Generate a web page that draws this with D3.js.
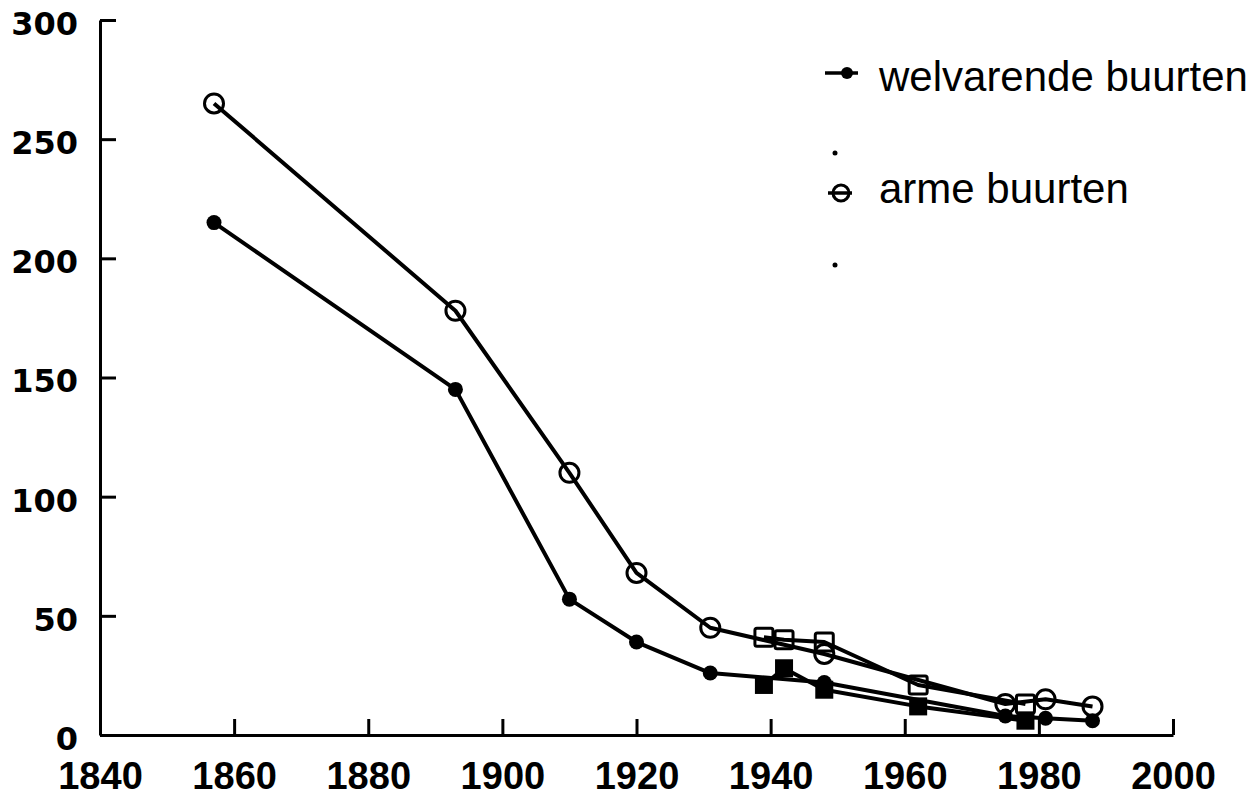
<!DOCTYPE html>
<html>
<head>
<meta charset="utf-8">
<script src="https://cdn.jsdelivr.net/npm/d3@7"></script>
<style>
  body { margin: 0; background: #fff; }
  .axis path, .axis line { stroke: #000; stroke-width: 3; }
  .xaxis text { font: bold 38px "Liberation Sans", Arial, sans-serif; fill: #000; }
  .yaxis text { font: bold 32px "DejaVu Sans", sans-serif; fill: #000; }
</style>
</head>
<body>
<svg id="chart" width="1259" height="800"></svg>
<script>
// circles, both neighbourhood types
var circleYears = [1857, 1893, 1910, 1920, 1931, 1948, 1975, 1981, 1988];
var wealthyValues = [215, 145, 57, 39, 26, 22, 8, 7, 6];
var poorValues = [265, 178, 110, 68, 45, 34, 13, 15, 12];

// squares (second source)
var squareYears = [1939, 1942, 1948, 1962, 1978];
var wealthySquareValues = [21, 28, 19, 12, 6];
var poorSquareValues = [41, 40, 39, 21, 13];

var xTicks = [1840, 1860, 1880, 1900, 1920, 1940, 1960, 1980, 2000];
var yTicks = [0, 50, 100, 150, 200, 250, 300];
var legendLabels = ['welvarende buurten', 'arme buurten'];

var svg = d3.select('#chart');

var x = d3.scaleLinear().domain([1840, 2000]).range([100, 1173]);
var y = d3.scaleLinear().domain([0, 300]).range([735, 20]);

// axes, ticks pointing inward
svg.append('g')
    .attr('class', 'axis xaxis')
    .attr('transform', 'translate(0,' + y(0) + ')')
    .call(d3.axisBottom(x).tickValues(xTicks).tickFormat(d3.format('d'))
        .tickSize(-16).tickSizeOuter(0).tickPadding(27));

svg.append('g')
    .attr('class', 'axis yaxis')
    .attr('transform', 'translate(' + x(1840) + ',0)')
    .call(d3.axisLeft(y).tickValues(yTicks)
        .tickSize(-16).tickSizeOuter(0).tickPadding(22))
    .selectAll('text')
    .attr('dy', '0.45em');

function pairs(years, values) {
    return years.map(function(d, i) { return [d, values[i]]; });
}

var line = d3.line()
    .x(function(d) { return x(d[0]); })
    .y(function(d) { return y(d[1]); });

var series = [
    pairs(circleYears, wealthyValues),
    pairs(circleYears, poorValues),
    pairs(squareYears, wealthySquareValues),
    pairs(squareYears, poorSquareValues)
];

series.forEach(function(s) {
    svg.append('path')
        .datum(s)
        .attr('d', line)
        .style('fill', 'none')
        .style('stroke', '#000')
        .style('stroke-width', 4)
        .style('stroke-linejoin', 'round');
});

// markers
svg.append('g').selectAll('circle')
    .data(series[1])
    .enter().append('circle')
    .attr('cx', function(d) { return x(d[0]); })
    .attr('cy', function(d) { return y(d[1]); })
    .attr('r', 9.5)
    .style('fill', 'none')
    .style('stroke', '#000')
    .style('stroke-width', 3);

svg.append('g').selectAll('rect')
    .data(series[3])
    .enter().append('rect')
    .attr('x', function(d) { return x(d[0]) - 9; })
    .attr('y', function(d) { return y(d[1]) - 9; })
    .attr('width', 18)
    .attr('height', 18)
    .attr('rx', 2)
    .style('fill', 'none')
    .style('stroke', '#000')
    .style('stroke-width', 3);

svg.append('g').selectAll('circle')
    .data(series[0])
    .enter().append('circle')
    .attr('cx', function(d) { return x(d[0]); })
    .attr('cy', function(d) { return y(d[1]); })
    .attr('r', 7.5)
    .style('fill', '#000');

svg.append('g').selectAll('rect')
    .data(series[2])
    .enter().append('rect')
    .attr('x', function(d) { return x(d[0]) - 9; })
    .attr('y', function(d) { return y(d[1]) - 9; })
    .attr('width', 18)
    .attr('height', 18)
    .style('fill', '#000');

// legend
var legend = svg.append('g').attr('transform', 'translate(825,73)');

legend.append('line')
    .attr('x1', 0).attr('x2', 33).attr('y1', 0).attr('y2', 0)
    .style('stroke', '#000').style('stroke-width', 3.5);
legend.append('circle')
    .attr('cx', 22).attr('cy', 0).attr('r', 6)
    .style('fill', '#000');

legend.append('line')
    .attr('x1', 3).attr('x2', 27).attr('y1', 120).attr('y2', 120)
    .style('stroke', '#000').style('stroke-width', 3.5);
legend.append('circle')
    .attr('cx', 16).attr('cy', 120).attr('r', 8)
    .style('fill', 'none').style('stroke', '#000').style('stroke-width', 3);

legend.append('circle').attr('cx', 10).attr('cy', 80).attr('r', 2.5).style('fill', '#000');
legend.append('circle').attr('cx', 10).attr('cy', 192).attr('r', 2.5).style('fill', '#000');

legend.selectAll('text')
    .data(legendLabels)
    .enter().append('text')
    .attr('x', 54)
    .attr('y', function(d, i) { return 18 + i * 112; })
    .style('font', '42px "Liberation Sans", Arial, sans-serif')
    .style('fill', '#000')
    .text(function(d) { return d; });
</script>
</body>
</html>
